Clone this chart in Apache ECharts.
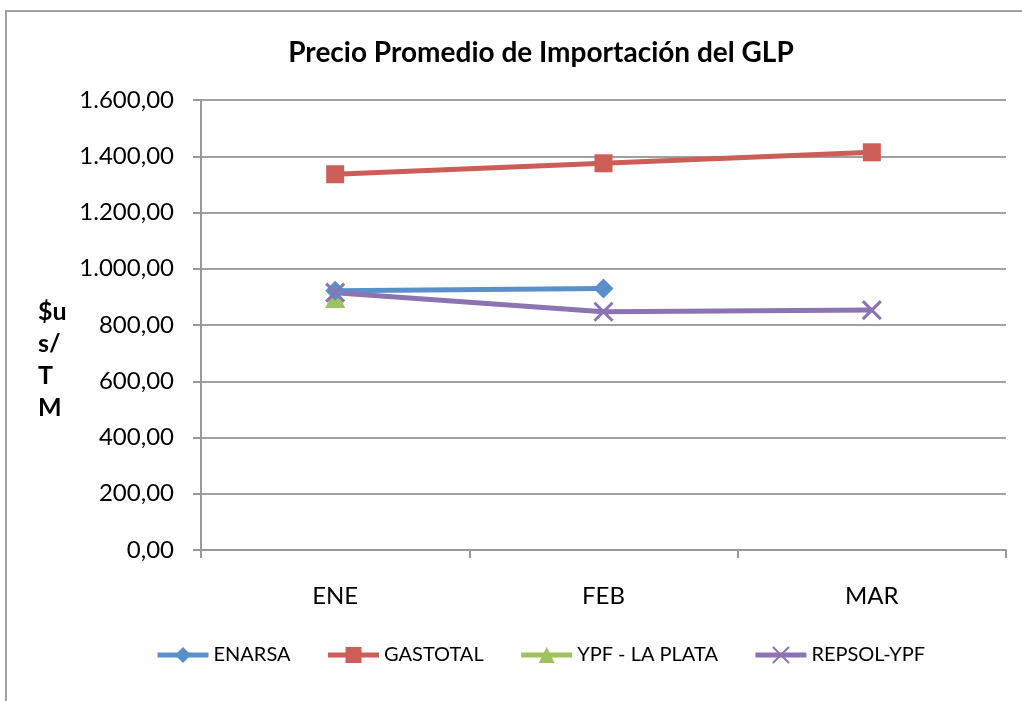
<!DOCTYPE html>
<html>
<head>
<meta charset="utf-8">
<script src="https://cdn.jsdelivr.net/npm/echarts@6/dist/echarts.min.js"></script>
<style>html,body{margin:0;padding:0;background:#fff;}#c{width:1022px;height:701px;}</style>
</head>
<body>
<div id="c"></div>
<script>
const categories = ['ENE', 'FEB', 'MAR'];
const enarsa = [922, 930, null];
const gastotal = [1336, 1375, 1414];
const ypfLaPlata = [896, null, null];
const repsolYpf = [915, 847, 853];
const yMin = 0, yMax = 1600, yStep = 200;

const FONT = 'Lato';
const C_BLUE = '#5A90CA', C_RED = '#CD5D57', C_GREEN = '#9EC25F', C_PURPLE = '#8C73B1';
const chart = echarts.init(document.getElementById('c'), null, {renderer: 'canvas'});
function fmt(v) {
  const parts = v.toFixed(2).split('.');
  parts[0] = parts[0].replace(/\B(?=(\d{3})+(?!\d))/g, '.');
  return parts.join(',');
}
const crossPath = 'path://M0,0L10,10M10,0L0,10';
chart.setOption({
  backgroundColor: '#fff',
  animation: false,
  title: {
    text: 'Precio Promedio de Importación del GLP',
    left: 536, top: 34, textAlign: 'center',
    textStyle: {fontFamily: FONT, fontWeight: 'bold', fontSize: 28, color: '#000'}
  },
  graphic: [
    {type: 'rect', z: -1, shape: {x: 6, y: 11, width: 1100, height: 800},
     style: {fill: 'none', stroke: '#a0a0a0', lineWidth: 2}},
    {type: 'text', left: 38, top: 296,
     style: {text: '$u\ns/\nT\nM', fontFamily: FONT, fontWeight: 'bold', fontSize: 25,
             lineHeight: 32, align: 'center', fill: '#000'}}
  ],
  legend: {
    left: 150, top: 640, itemWidth: 51, itemHeight: 20, itemGap: 35,
    lineStyle: {width: 5},
    textStyle: {fontFamily: FONT, fontSize: 20, color: '#000'},
    data: ['ENARSA', 'GASTOTAL', 'YPF - LA PLATA', 'REPSOL-YPF']
  },
  grid: {left: 201, right: 16, top: 100, bottom: 151, containLabel: false},
  xAxis: {
    type: 'category', data: categories, boundaryGap: true,
    axisLine: {lineStyle: {color: '#999', width: 2}},
    axisTick: {show: true, length: 8, lineStyle: {color: '#999', width: 2}},
    axisLabel: {fontFamily: FONT, fontSize: 24, color: '#000', margin: 34}
  },
  yAxis: {
    type: 'value', min: yMin, max: yMax, interval: yStep,
    axisLine: {show: true, lineStyle: {color: '#999', width: 2}},
    axisTick: {show: true, length: 8, lineStyle: {color: '#999', width: 2}},
    splitLine: {lineStyle: {color: '#a0a0a0', width: 2}},
    axisLabel: {fontFamily: FONT, fontSize: 24, color: '#000', margin: 27, formatter: fmt}
  },
  series: [
    {name: 'ENARSA', type: 'line', data: enarsa, symbol: 'diamond', symbolSize: 20,
     lineStyle: {color: C_BLUE, width: 5}, itemStyle: {color: C_BLUE}},
    {name: 'GASTOTAL', type: 'line', data: gastotal, symbol: 'rect', symbolSize: 18,
     lineStyle: {color: C_RED, width: 5}, itemStyle: {color: C_RED}},
    {name: 'YPF - LA PLATA', type: 'line', data: ypfLaPlata, symbol: 'triangle', symbolSize: 20,
     lineStyle: {color: C_GREEN, width: 5}, itemStyle: {color: C_GREEN}, z: 1},
    {name: 'REPSOL-YPF', type: 'line', data: repsolYpf, symbol: crossPath, symbolSize: 18,
     lineStyle: {color: C_PURPLE, width: 5},
     itemStyle: {color: C_PURPLE, borderColor: C_PURPLE, borderWidth: 3}}
  ]
});
</script>
</body>
</html>
